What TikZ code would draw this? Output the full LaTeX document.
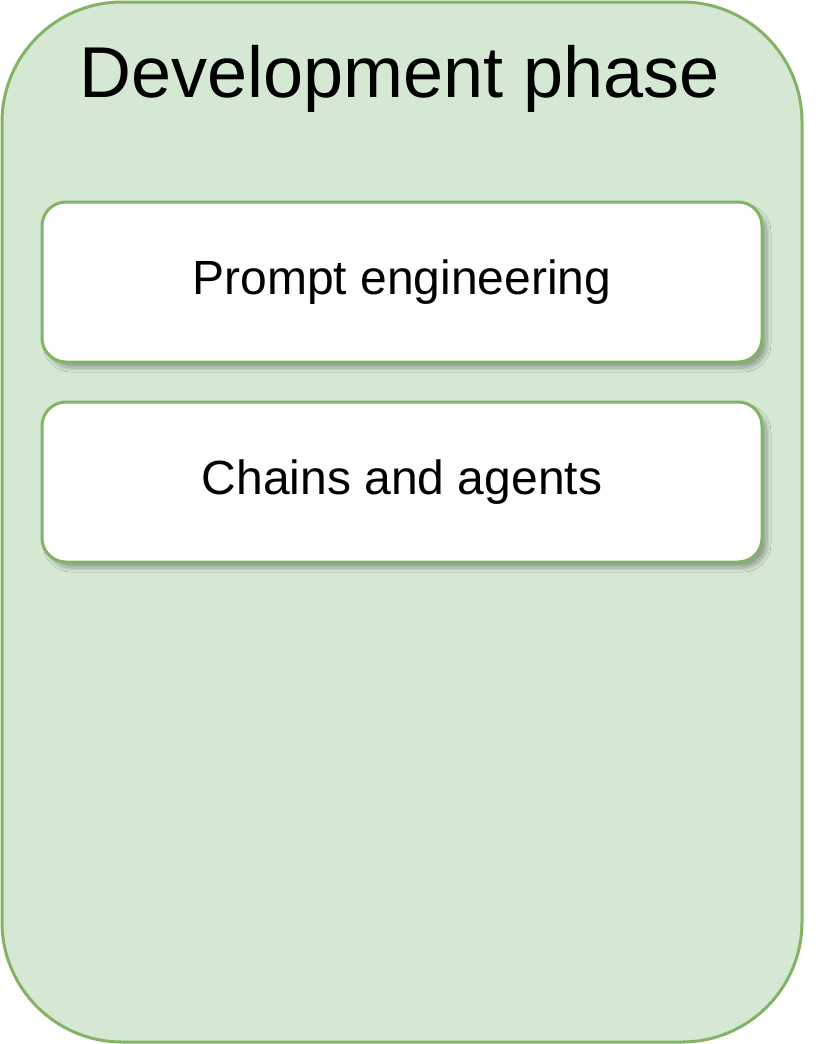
\documentclass[tikz,border=0pt]{standalone}
\usepackage{fontspec}
\setmainfont{Liberation Sans}
\usetikzlibrary{shadows.blur}
\definecolor{gfill}{HTML}{D5E8D4}
\definecolor{gline}{HTML}{82B366}
\begin{document}
\begin{tikzpicture}[x=1pt,y=-1pt,
  phase/.style={draw=gline, fill=gfill, line width=3pt, rounded corners=120pt},
  stepbox/.style={draw=gline, fill=white, line width=3pt, rounded corners=24pt,
    minimum width=720pt, minimum height=160pt, inner sep=0pt,
    font=\fontsize{48pt}{56pt}\selectfont,
    blur shadow={shadow xshift=5pt, shadow yshift=-6pt, shadow blur radius=4pt, shadow blur steps=10, shadow opacity=30}},
  title/.style={font=\fontsize{72pt}{84pt}\selectfont, anchor=base, inner sep=0pt}]
\useasboundingbox (0,0) rectangle (836,1044);
\draw[phase] (2,2) rectangle (802,1042);
\node[title] (t) at (400,97) {Development phase};
\node[stepbox] (pe) at (402,282) {Prompt engineering};
\node[stepbox] (ca) at (402,482) {Chains and agents};
\end{tikzpicture}
\end{document}
